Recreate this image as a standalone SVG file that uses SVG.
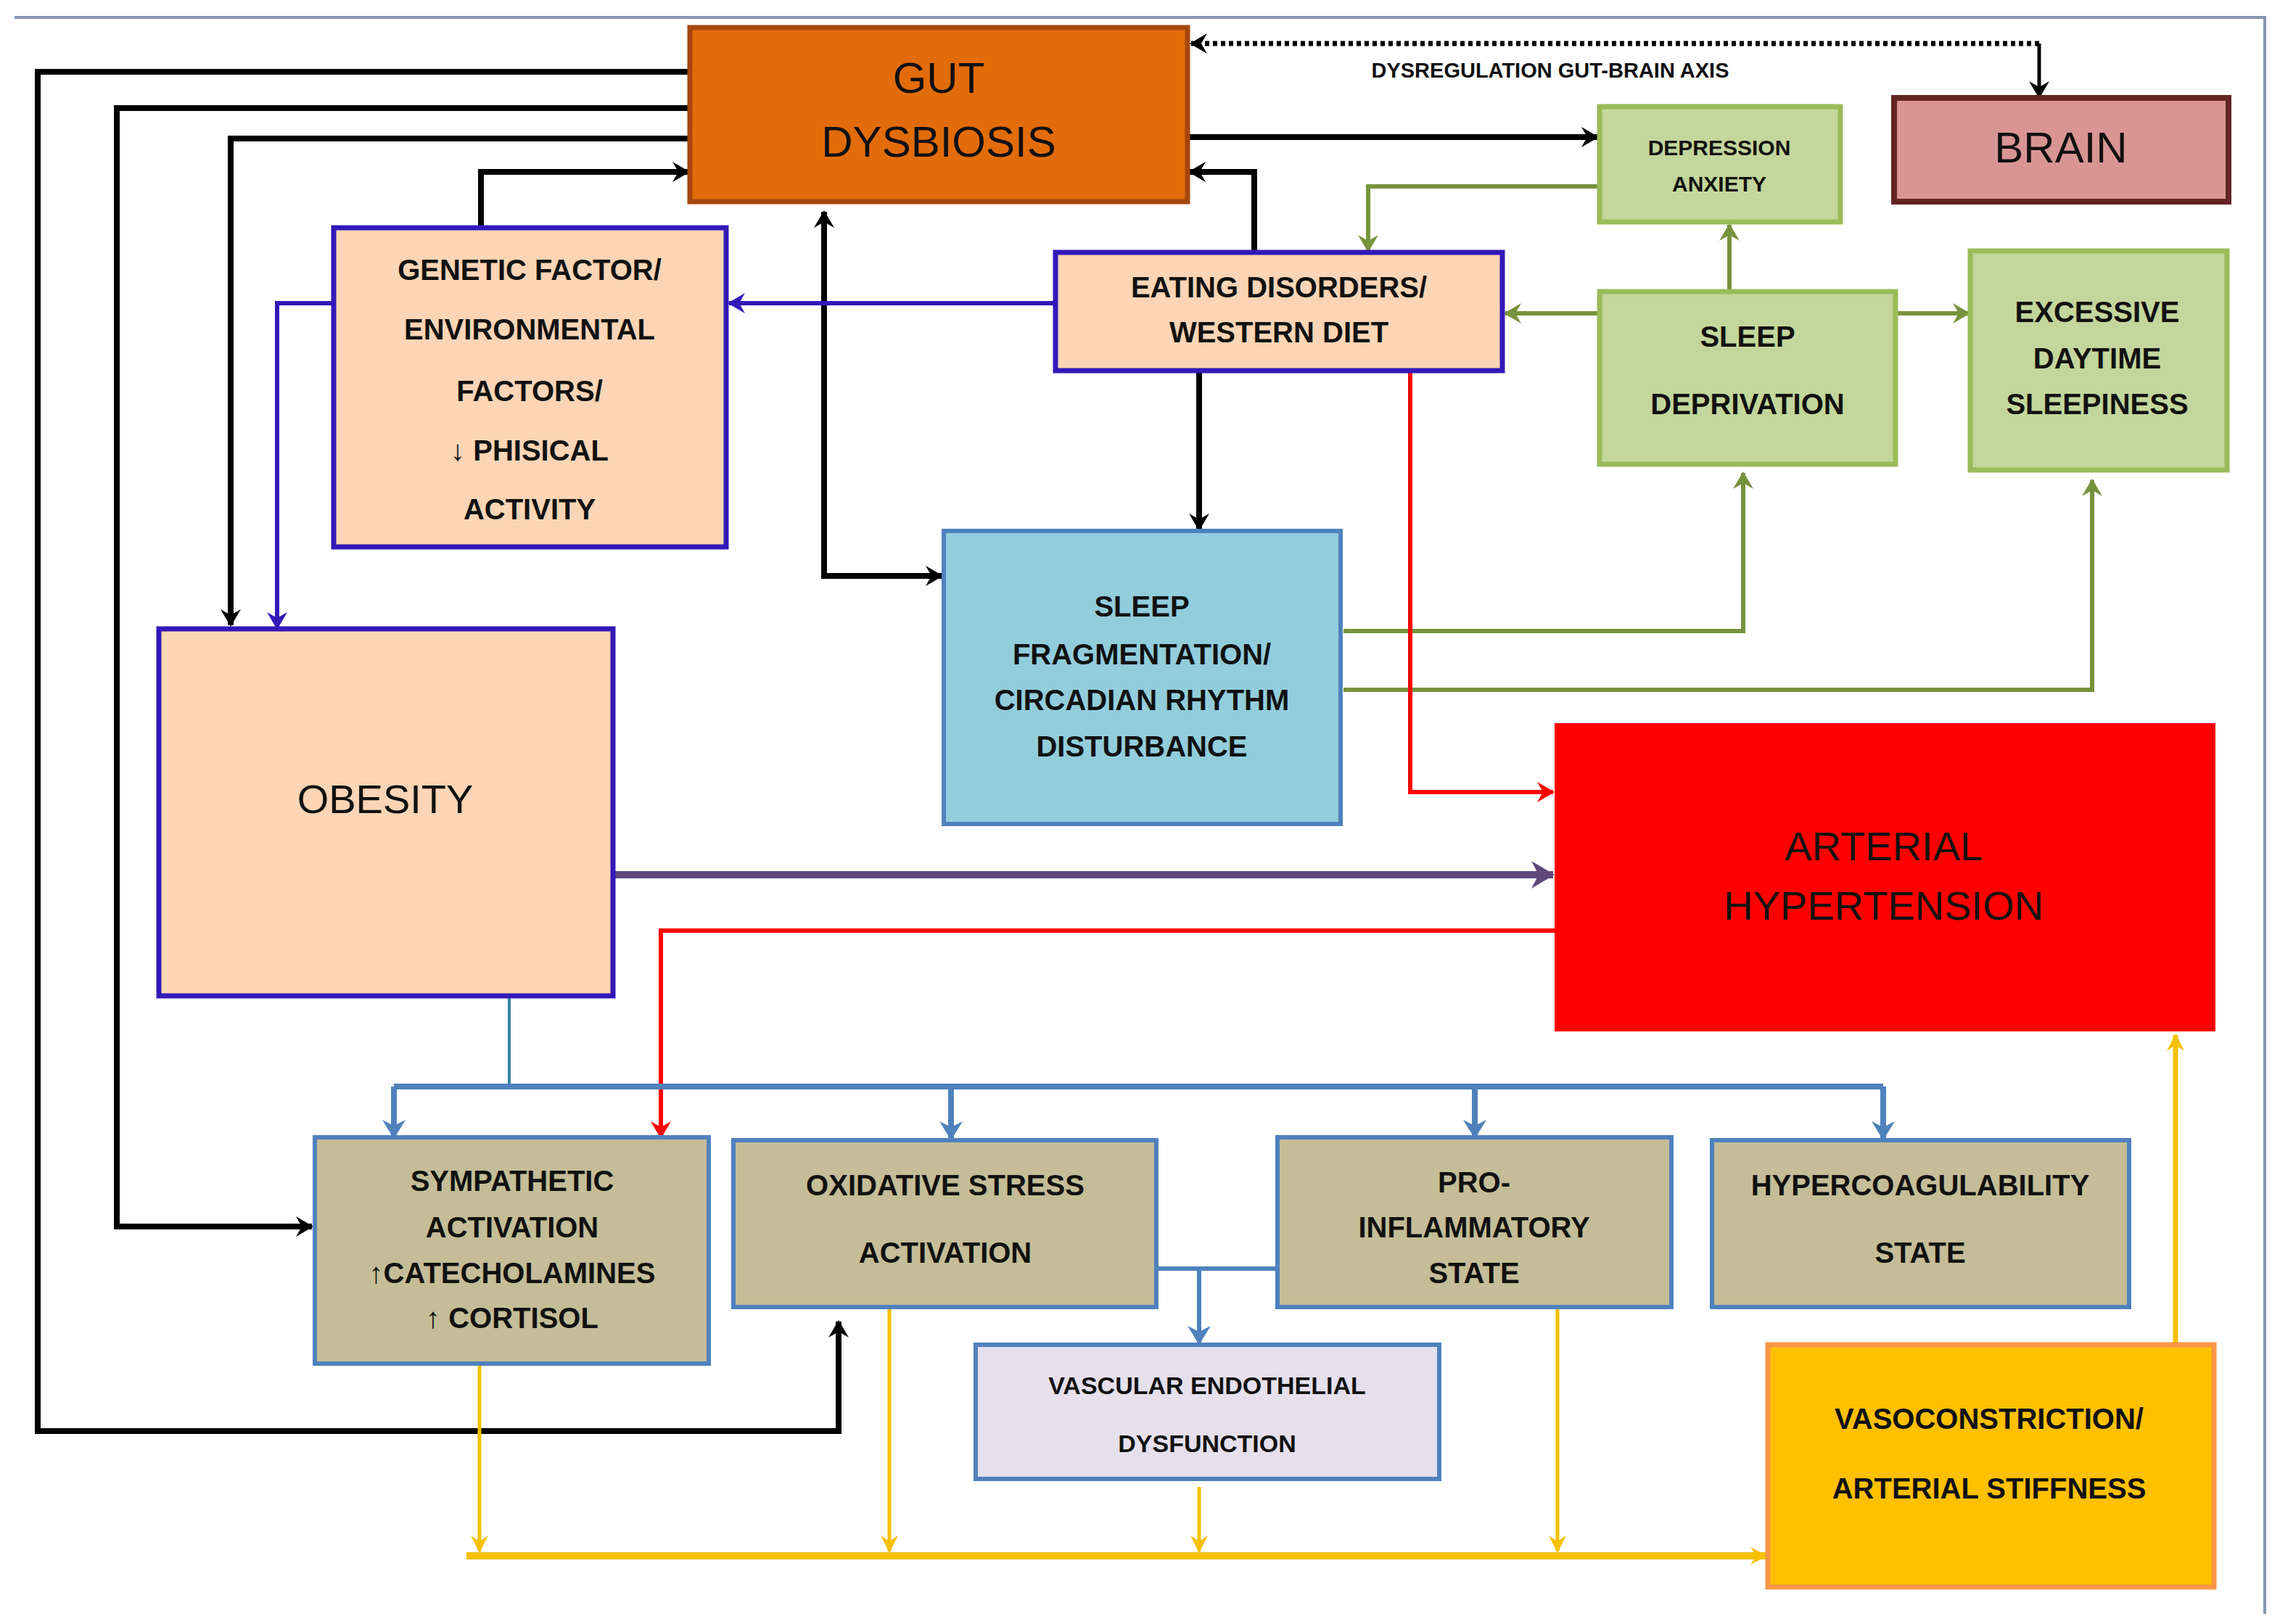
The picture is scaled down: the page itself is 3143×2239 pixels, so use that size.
<svg xmlns="http://www.w3.org/2000/svg" width="3143" height="2239" viewBox="0 0 3143 2239">
<style>
text{font-family:"Liberation Sans",Arial,sans-serif;font-weight:bold;fill:#111;text-anchor:middle;dominant-baseline:central}
.t{font-size:40px}
.s{font-size:30px}
.big{font-size:58px;font-weight:normal}
.c{fill:none}
.k{stroke:#000;stroke-width:8}
.bl{stroke:#3219B8;stroke-width:6}
.gr{stroke:#77933C;stroke-width:6}
.rd{stroke:#FF0000;stroke-width:6}
.pu{stroke:#5F497A;stroke-width:10}
.lb{stroke:#4F81BD;stroke-width:8}
.te{stroke:#31859C;stroke-width:4}
.ye{stroke:#F5C000;stroke-width:5}
</style>
<defs>
<marker id="ak" markerUnits="userSpaceOnUse" markerWidth="40" markerHeight="40" refX="28" refY="20" orient="auto"><path d="M6,6 L30,20 L6,34 L14,20 Z" fill="#000"/></marker>
<marker id="ab" markerUnits="userSpaceOnUse" markerWidth="40" markerHeight="40" refX="28" refY="20" orient="auto"><path d="M6,6 L30,20 L6,34 L14,20 Z" fill="#3219B8"/></marker>
<marker id="ag" markerUnits="userSpaceOnUse" markerWidth="40" markerHeight="40" refX="28" refY="20" orient="auto"><path d="M6,6 L30,20 L6,34 L14,20 Z" fill="#77933C"/></marker>
<marker id="ar" markerUnits="userSpaceOnUse" markerWidth="40" markerHeight="40" refX="28" refY="20" orient="auto"><path d="M6,6 L30,20 L6,34 L14,20 Z" fill="#FF0000"/></marker>
<marker id="ap" markerUnits="userSpaceOnUse" markerWidth="50" markerHeight="50" refX="36" refY="25" orient="auto"><path d="M6,6 L38,25 L6,44 L16,25 Z" fill="#5F497A"/></marker>
<marker id="al" markerUnits="userSpaceOnUse" markerWidth="40" markerHeight="40" refX="28" refY="20" orient="auto"><path d="M4,4 L30,20 L4,36 L12,20 Z" fill="#4F81BD"/></marker>
<marker id="ay" markerUnits="userSpaceOnUse" markerWidth="40" markerHeight="40" refX="28" refY="20" orient="auto"><path d="M6,8 L30,20 L6,32 L14,20 Z" fill="#F5C000"/></marker>
</defs>
<rect width="3143" height="2239" fill="#fff"/>
<path d="M20,24 H3122 V2225" fill="none" stroke="#8496B0" stroke-width="4"/>

<g id="connectors">
<path class="c k" d="M951,99 H52 V1973 H1156 V1822" marker-end="url(#ak)"/>
<path class="c k" d="M951,149 H161 V1691 H430" marker-end="url(#ak)"/>
<path class="c k" d="M951,191 H318 V862" marker-end="url(#ak)"/>
<path class="c k" d="M663,314 V237 H949" marker-end="url(#ak)"/>
<path class="c k" d="M1136,296 V794 H1298" marker-start="url(#ak)" marker-end="url(#ak)" style="marker-start:none"/>
<path class="c k" d="M1136,794 V292" marker-end="url(#ak)"/>
<path class="c k" d="M1637,189 H2202" marker-end="url(#ak)"/>
<path class="c k" d="M1729,348 V237 H1640" marker-end="url(#ak)"/>
<path class="c k" d="M1653,511 V730" marker-end="url(#ak)"/>
<path class="c" d="M2811,60 H1642" stroke="#000" stroke-width="7" stroke-dasharray="6,5" marker-end="url(#ak)"/>
<path class="c" d="M2811,60 V134" stroke="#000" stroke-width="5" marker-end="url(#ak)"/>
<text class="s" x="2137" y="97" style="font-size:29px">DYSREGULATION GUT-BRAIN AXIS</text>
<path class="c bl" d="M1455,418 H1005" marker-end="url(#ab)"/>
<path class="c bl" d="M460,418 H382 V866" marker-end="url(#ab)"/>
<path class="c gr" d="M2205,257 H1886 V346" marker-end="url(#ag)"/>
<path class="c gr" d="M2384,402 V310" marker-end="url(#ag)"/>
<path class="c gr" d="M2205,432 H2075" marker-end="url(#ag)"/>
<path class="c gr" d="M2613,432 H2714" marker-end="url(#ag)"/>
<path class="c gr" d="M1852,870 H2403 V652" marker-end="url(#ag)"/>
<path class="c gr" d="M1852,951 H2884 V662" marker-end="url(#ag)"/>
<path class="c rd" d="M1944,511 V1092 H2141" marker-end="url(#ar)"/>
<path class="c rd" d="M2143,1283 H911 V1568" marker-end="url(#ar)"/>
<path class="c pu" d="M845,1206 H2141" marker-end="url(#ap)"/>
<path class="c te" d="M702,1373 V1498"/>
<path class="c lb" d="M543,1498 H2596"/>
<path class="c lb" d="M543,1498 V1568" marker-end="url(#al)"/>
<path class="c lb" d="M1311,1498 V1570" marker-end="url(#al)"/>
<path class="c lb" d="M2033,1498 V1568" marker-end="url(#al)"/>
<path class="c lb" d="M2596,1498 V1570" marker-end="url(#al)"/>
<path class="c lb" style="stroke-width:6" d="M1594,1749 H1761 M1653,1749 V1852" marker-end="url(#al)"/>
<path class="c ye" style="stroke-width:10" d="M643,2145 H2435" marker-end="url(#ay)"/>
<path class="c ye" d="M661,1880 V2139" marker-end="url(#ay)"/>
<path class="c ye" d="M1226,1802 V2139" marker-end="url(#ay)"/>
<path class="c ye" d="M1653,2050 V2139" marker-end="url(#ay)"/>
<path class="c ye" d="M2147,1802 V2139" marker-end="url(#ay)"/>
<path class="c ye" style="stroke-width:7" d="M2999,1854 V1427" marker-end="url(#ay)"/>
</g>

<g id="gut"><rect x="951" y="38" width="686" height="240" fill="#E36C0A" stroke="#A5470C" stroke-width="7"/>
<text class="big" x="1294" y="107" style="font-size:60px">GUT</text><text class="big" x="1294" y="195" style="font-size:60px">DYSBIOSIS</text></g>
<g id="brain"><rect x="2611" y="135" width="461" height="143" fill="#D99594" stroke="#632523" stroke-width="8"/>
<text class="big" x="2841" y="203" style="font-size:60px">BRAIN</text></g>
<g id="depression"><rect x="2205" y="147" width="332" height="159" fill="#C3D69B" stroke="#9BBB59" stroke-width="7"/>
<text class="s" x="2370" y="203">DEPRESSION</text><text class="s" x="2370" y="253">ANXIETY</text></g>
<g id="sleepdep"><rect x="2205" y="402" width="408" height="238" fill="#C3D69B" stroke="#9BBB59" stroke-width="7"/>
<text class="t" x="2409" y="464">SLEEP</text><text class="t" x="2409" y="557">DEPRIVATION</text></g>
<g id="excessive"><rect x="2716" y="346" width="354" height="302" fill="#C3D69B" stroke="#9BBB59" stroke-width="7"/>
<text class="t" x="2891" y="430">EXCESSIVE</text><text class="t" x="2891" y="494">DAYTIME</text><text class="t" x="2891" y="557">SLEEPINESS</text></g>
<g id="eating"><rect x="1455" y="348" width="616" height="163" fill="#FBD5B5" stroke="#3219B8" stroke-width="7"/>
<text class="t" x="1763" y="396">EATING DISORDERS/</text><text class="t" x="1763" y="458">WESTERN DIET</text></g>
<g id="genetic"><rect x="460" y="314" width="541" height="440" fill="#FBD5B5" stroke="#3219B8" stroke-width="7"/>
<text class="t" x="730" y="372">GENETIC FACTOR/</text><text class="t" x="730" y="454">ENVIRONMENTAL</text><text class="t" x="730" y="539">FACTORS/</text><text class="t" x="730" y="621">↓ PHISICAL</text><text class="t" x="730" y="702">ACTIVITY</text></g>
<g id="obesity"><rect x="219" y="867" width="626" height="506" fill="#FBD5B5" stroke="#3219B8" stroke-width="7"/>
<text class="big" x="531" y="1101" style="font-size:56px">OBESITY</text></g>
<g id="sleepfrag"><rect x="1301" y="732" width="547" height="404" fill="#92CDDC" stroke="#4F81BD" stroke-width="6"/>
<text class="t" x="1574" y="836">SLEEP</text><text class="t" x="1574" y="902">FRAGMENTATION/</text><text class="t" x="1574" y="965">CIRCADIAN RHYTHM</text><text class="t" x="1574" y="1029">DISTURBANCE</text></g>
<g id="hypertension"><rect x="2143" y="997" width="911" height="425" fill="#FF0000"/>
<text class="big" x="2597" y="1166" style="font-size:56px">ARTERIAL</text><text class="big" x="2597" y="1248" style="font-size:56px">HYPERTENSION</text></g>
<g id="sympathetic"><rect x="434" y="1568" width="543" height="312" fill="#C4BD97" stroke="#4F81BD" stroke-width="6"/>
<text class="t" x="706" y="1628">SYMPATHETIC</text><text class="t" x="706" y="1692">ACTIVATION</text><text class="t" x="706" y="1755">↑CATECHOLAMINES</text><text class="t" x="706" y="1817">↑ CORTISOL</text></g>
<g id="oxidative"><rect x="1011" y="1572" width="583" height="230" fill="#C4BD97" stroke="#4F81BD" stroke-width="6"/>
<text class="t" x="1303" y="1634">OXIDATIVE STRESS</text><text class="t" x="1303" y="1727">ACTIVATION</text></g>
<g id="proinflammatory"><rect x="1761" y="1568" width="543" height="234" fill="#C4BD97" stroke="#4F81BD" stroke-width="6"/>
<text class="t" x="2032" y="1630">PRO-</text><text class="t" x="2032" y="1692">INFLAMMATORY</text><text class="t" x="2032" y="1755">STATE</text></g>
<g id="hypercoag"><rect x="2360" y="1572" width="575" height="230" fill="#C4BD97" stroke="#4F81BD" stroke-width="6"/>
<text class="t" x="2647" y="1634">HYPERCOAGULABILITY</text><text class="t" x="2647" y="1727">STATE</text></g>
<g id="vascular"><rect x="1345" y="1854" width="639" height="185" fill="#E5E0EC" stroke="#4F81BD" stroke-width="6"/>
<text class="s" x="1664" y="1910" style="font-size:34px">VASCULAR ENDOTHELIAL</text><text class="s" x="1664" y="1990" style="font-size:34px">DYSFUNCTION</text></g>
<g id="vasoconstriction"><rect x="2437" y="1854" width="615" height="334" fill="#FFC000" stroke="#F79646" stroke-width="7"/>
<text class="t" x="2742" y="1956">VASOCONSTRICTION/</text><text class="t" x="2742" y="2052">ARTERIAL STIFFNESS</text></g>
</svg>
